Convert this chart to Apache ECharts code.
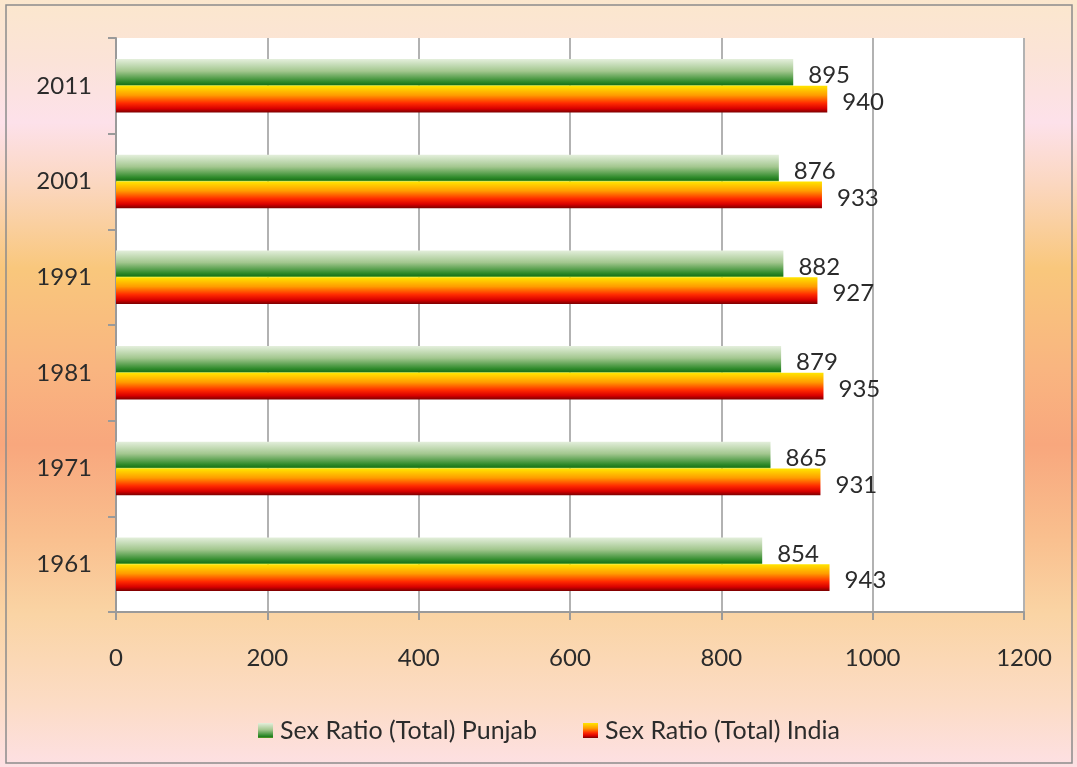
<!DOCTYPE html>
<html>
<head>
<meta charset="utf-8">
<script src="https://cdn.jsdelivr.net/npm/echarts@6/dist/echarts.min.js"></script>
<style>
  html, body { margin: 0; padding: 0; }
  #chart { width: 1077px; height: 767px; }
</style>
</head>
<body>
<div id="chart"></div>
<script>
// census years, bottom to top
let years = ['1961', '1971', '1981', '1991', '2001', '2011'];
let punjab = [854, 865, 879, 882, 876, 895];
let india = [943, 931, 935, 927, 933, 940];
let seriesNames = ['Sex Ratio (Total) Punjab', 'Sex Ratio (Total) India'];

let fontName = 'Lato';

let greenFill = new echarts.graphic.LinearGradient(0, 0, 0, 1, [
    { offset: 0, color: '#e4efdc' },
    { offset: 0.45, color: '#a3c78f' },
    { offset: 0.85, color: '#2e8a2a' },
    { offset: 0.95, color: '#1c741c' },
    { offset: 1, color: '#9ccc2c' }
]);
let redFill = new echarts.graphic.LinearGradient(0, 0, 0, 1, [
    { offset: 0, color: '#ffe600' },
    { offset: 0.35, color: '#ff9c00' },
    { offset: 0.65, color: '#ff2a00' },
    { offset: 0.85, color: '#d80000' },
    { offset: 1, color: '#7a0000' }
]);

let option = {
    backgroundColor: new echarts.graphic.LinearGradient(0, 0, 0, 1, [
        { offset: 0, color: '#fbe7cd' },
        { offset: 0.08, color: '#fbe3d8' },
        { offset: 0.16, color: '#fde1ea' },
        { offset: 0.24, color: '#fbd7c0' },
        { offset: 0.35, color: '#f9c77c' },
        { offset: 0.48, color: '#f9b580' },
        { offset: 0.58, color: '#f8a77d' },
        { offset: 0.7, color: '#f9bf8e' },
        { offset: 0.8, color: '#fad4a4' },
        { offset: 0.92, color: '#fcdcc6' },
        { offset: 1, color: '#fde0e4' }
    ]),
    textStyle: { fontFamily: fontName },
    graphic: [{
        type: 'rect',
        shape: { x: 6, y: 5, width: 1066, height: 758 },
        style: { fill: 'none', stroke: '#8c8c8c', lineWidth: 1.5 },
        silent: true
    }],
    legend: {
        data: seriesNames,
        top: 713,
        left: 253,
        itemWidth: 15,
        itemHeight: 15,
        itemGap: 46,
        icon: 'rect',
        textStyle: { fontSize: 25, color: '#2b2b2b', fontFamily: fontName, padding: [0, 0, 0, 2] }
    },
    grid: {
        left: 116,
        right: 53,
        top: 38,
        bottom: 155,
        containLabel: false,
        show: true,
        backgroundColor: '#ffffff',
        borderWidth: 0
    },
    xAxis: {
        type: 'value',
        min: 0,
        max: 1200,
        interval: 200,
        axisLine: { show: true, lineStyle: { color: '#9a9a9a', width: 2 } },
        axisTick: { show: true, length: 8, lineStyle: { color: '#9a9a9a', width: 2 } },
        axisLabel: {
            fontSize: 24, color: '#2b2b2b', margin: 34, fontFamily: fontName,
            formatter: function (v) { return String(v); }
        },
        splitLine: { show: true, lineStyle: { color: '#b2b2b2', width: 2 } }
    },
    yAxis: {
        type: 'category',
        data: years,
        axisLine: { show: true, lineStyle: { color: '#9a9a9a', width: 2 } },
        axisTick: { show: true, length: 8, lineStyle: { color: '#9a9a9a', width: 2 } },
        axisLabel: { fontSize: 24, color: '#2b2b2b', margin: 24, fontFamily: fontName },
        splitLine: { show: false }
    },
    series: [{
        name: seriesNames[0],
        type: 'bar',
        data: punjab,
        barGap: '0%',
        barCategoryGap: '44%',
        itemStyle: { color: greenFill },
        label: {
            show: true, position: 'right', distance: 15,
            fontSize: 24, color: '#2b2b2b', fontFamily: fontName, offset: [0, 3]
        }
    }, {
        name: seriesNames[1],
        type: 'bar',
        data: india,
        barGap: '0%',
        barCategoryGap: '44%',
        itemStyle: { color: redFill },
        label: {
            show: true, position: 'right', distance: 15,
            fontSize: 24, color: '#2b2b2b', fontFamily: fontName, offset: [0, 3]
        }
    }]
};

let myChart = echarts.init(document.getElementById('chart'));
myChart.setOption(option);
</script>
</body>
</html>
